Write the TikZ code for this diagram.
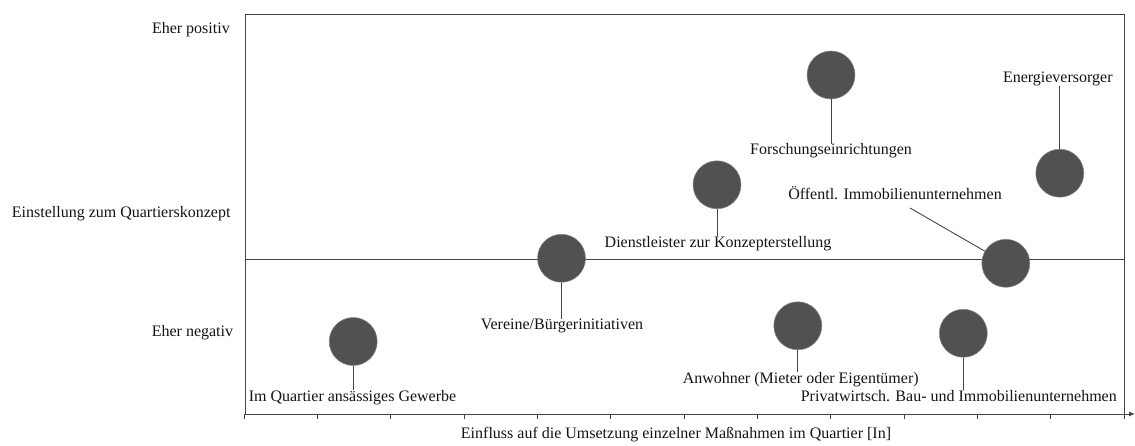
\documentclass[tikz,border=0pt]{standalone}
\usepackage{fontspec}
\setmainfont{Liberation Serif}
\usetikzlibrary{arrows.meta}
\definecolor{dotgray}{HTML}{515151}
\definecolor{linegray}{HTML}{444444}
\definecolor{txt}{HTML}{141414}
\begin{document}
\begin{tikzpicture}[x=1pt,y=-1pt,
  dot/.style={circle, fill=dotgray, draw=dotgray!70!white, line width=0.5pt, minimum size=48pt, inner sep=0pt},
  lbl/.style={inner sep=0pt, anchor=base, font=\fontsize{16}{19}\selectfont, text=txt},
  lblr/.style={lbl, anchor=base east},
  conn/.style={draw=linegray, line width=0.9pt},
  frame/.style={draw=linegray, line width=0.9pt},
  ]
\useasboundingbox (0,0) rectangle (1135,446);
% frame and axes
\coordinate (tl) at (245,14);
\coordinate (br) at (1124,414);
\draw[frame] (tl) rectangle (br);
\coordinate (ml) at (245,259);
\coordinate (mr) at (1124,259);
\draw[frame] (ml) -- (mr);
\coordinate (ax0) at (244,414);
\coordinate (ax1) at (1135,414);
\draw[frame, -{Latex[length=6pt,width=5pt]}] (ax0) -- (ax1);
\foreach \k in {0,...,12} {
  \draw[frame] (244+73.33*\k,414) -- ++(0,4.5);
}
% axis labels
\node[lblr] (pos) at (230,33.3) {Eher positiv};
\node[lblr] (einst) at (230.7,217.3) {Einstellung zum Quartierskonzept};
\node[lblr] (neg) at (233.3,336.7) {Eher negativ};
\node[lbl] (einfl) at (676,438) {Einfluss auf die Umsetzung einzelner Maßnahmen im Quartier [In]};
% circles
\node[dot] (c1) at (353.2,341.5) {};
\node[dot] (c2) at (561.5,258.3) {};
\node[dot] (c3) at (717,184.8) {};
\node[dot] (c4) at (831,75) {};
\node[dot] (c5) at (1059.8,173.2) {};
\node[dot] (c6) at (1005.8,263.3) {};
\node[dot] (c7) at (797.8,325.8) {};
\node[dot] (c8) at (963.3,333.3) {};
% labels
\node[lbl] (l1) at (352.5,401.7) {Im Quartier ansässiges Gewerbe};
\node[lbl] (l2) at (562,329.3) {Vereine/Bürgerinitiativen};
\node[lbl] (l3) at (718,247.3) {Dienstleister zur Konzepterstellung};
\node[lbl] (l4) at (831,155) {Forschungseinrichtungen};
\node[lbl] (l5) at (1057.8,82.7) {Energieversorger};
\node[lbl] (l6) at (895,200) {Öffentl. Immobilienunternehmen};
\node[lbl] (l7) at (800.7,383.3) {Anwohner (Mieter oder Eigentümer)};
\node[lbl] (l8) at (958.8,401.7) {Privatwirtsch. Bau- und Immobilienunternehmen};
% connectors
\draw[conn] (c1.south) -- (c1.south |- l1.north);
\draw[conn] (c2.south) -- (c2.south |- l2.north);
\draw[conn] (c3.south) -- (c3.south |- l3.north);
\draw[conn] (c4.south) -- (c4.south |- l4.north);
\draw[conn] (c5.north) -- (c5.north |- l5.south);
\coordinate (oe) at (910,208);
\draw[conn] (oe) -- (c6);
\draw[conn] (c7.south) -- (c7.south |- l7.north);
\draw[conn] (c8.south) -- (c8.south |- l8.north);
\end{tikzpicture}
\end{document}
